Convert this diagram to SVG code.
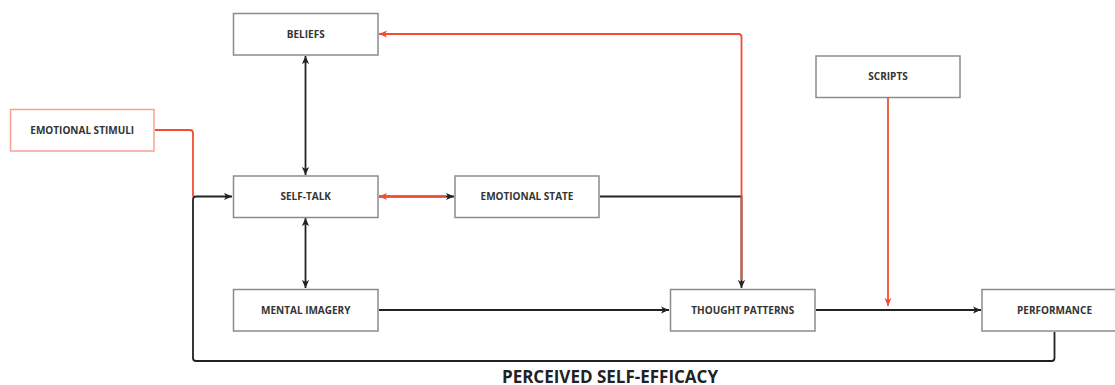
<svg xmlns="http://www.w3.org/2000/svg" width="1115" height="385" viewBox="0 0 1115 385">
  <style>
    .box { fill: #ffffff; stroke: #8c8c8c; stroke-width: 1.5; }
    .box-red { fill: #ffffff; stroke: #f5a291; stroke-width: 1.5; }
    .lbl { font-family: "Open Sans", "Liberation Sans", sans-serif; font-weight: 700; font-size: 10px; fill: #333333; text-anchor: middle; }
    .title { font-family: "Open Sans", "Liberation Sans", sans-serif; font-weight: 700; font-size: 17px; fill: #222222; text-anchor: middle; }
    .blk { fill: none; stroke: #222222; stroke-width: 1.8; }
    .red { fill: none; stroke: #f24e33; stroke-width: 1.8; }
  </style>
  <defs>
    <marker id="ab" viewBox="0 0 10 10" refX="10" refY="5" markerWidth="8" markerHeight="8" markerUnits="userSpaceOnUse" orient="auto-start-reverse">
      <path d="M0,0.5 L10,5 L0,9.5 L2.5,5 z" fill="#222222"/>
    </marker>
    <marker id="ar" viewBox="0 0 10 10" refX="10" refY="5" markerWidth="8" markerHeight="8" markerUnits="userSpaceOnUse" orient="auto-start-reverse">
      <path d="M0,0.5 L10,5 L0,9.5 L2.5,5 z" fill="#f24e33"/>
    </marker>
  </defs>

  <g id="connectors">
    <path class="blk" d="M305.5,56 V175" marker-start="url(#ab)" marker-end="url(#ab)"/>
    <path class="blk" d="M305.5,218 V288" marker-start="url(#ab)" marker-end="url(#ab)"/>
    <path class="blk" d="M379,196.5 H454" marker-end="url(#ab)"/>
    <path class="red" d="M446,196.5 H379" marker-end="url(#ar)"/>
    <path class="red" d="M155,130 H190 Q193,130 193,133 V196.5"/>
    <path class="blk" d="M1054.5,332 V358 Q1054.5,361 1051.5,361 H196 Q193,361 193,358 V199.5 Q193,196.5 196,196.5 H232" marker-end="url(#ab)"/>
    <path class="blk" d="M600,196.5 H741.5 V288" marker-end="url(#ab)"/>
    <path class="red" d="M741.5,280 V37 Q741.5,34 738.5,34 H379" marker-end="url(#ar)"/>
    <path class="blk" d="M379,310 H669" marker-end="url(#ab)"/>
    <path class="blk" d="M816,310 H981" marker-end="url(#ab)"/>
    <path class="red" d="M888,98 V306" marker-end="url(#ar)"/>
  </g>

  <g id="beliefs">
    <rect class="box" x="233.5" y="13.5" width="144.5" height="41.5"/>
    <text class="lbl" x="305.75" y="37.8">BELIEFS</text>
  </g>
  <g id="emotional-stimuli">
    <rect class="box-red" x="10.5" y="109.5" width="143.5" height="41.5"/>
    <text class="lbl" x="82.25" y="133.8">EMOTIONAL STIMULI</text>
  </g>
  <g id="self-talk">
    <rect class="box" x="233.5" y="176" width="144.5" height="41.5"/>
    <text class="lbl" x="305.75" y="200.3">SELF-TALK</text>
  </g>
  <g id="emotional-state">
    <rect class="box" x="455" y="176" width="144" height="41.5"/>
    <text class="lbl" x="527" y="200.3">EMOTIONAL STATE</text>
  </g>
  <g id="scripts">
    <rect class="box" x="816" y="56" width="144" height="41.5"/>
    <text class="lbl" x="888" y="80.3">SCRIPTS</text>
  </g>
  <g id="mental-imagery">
    <rect class="box" x="233.5" y="289.5" width="144.5" height="41.5"/>
    <text class="lbl" x="305.75" y="313.8">MENTAL IMAGERY</text>
  </g>
  <g id="thought-patterns">
    <rect class="box" x="670.5" y="289.5" width="144.5" height="41.5"/>
    <text class="lbl" x="742.75" y="313.8">THOUGHT PATTERNS</text>
  </g>
  <g id="performance">
    <rect class="box" x="982" y="289.5" width="145" height="41.5"/>
    <text class="lbl" x="1054.5" y="313.8">PERFORMANCE</text>
  </g>
  <g id="perceived-self-efficacy">
    <text class="title" x="610" y="383">PERCEIVED SELF-EFFICACY</text>
  </g>
</svg>
